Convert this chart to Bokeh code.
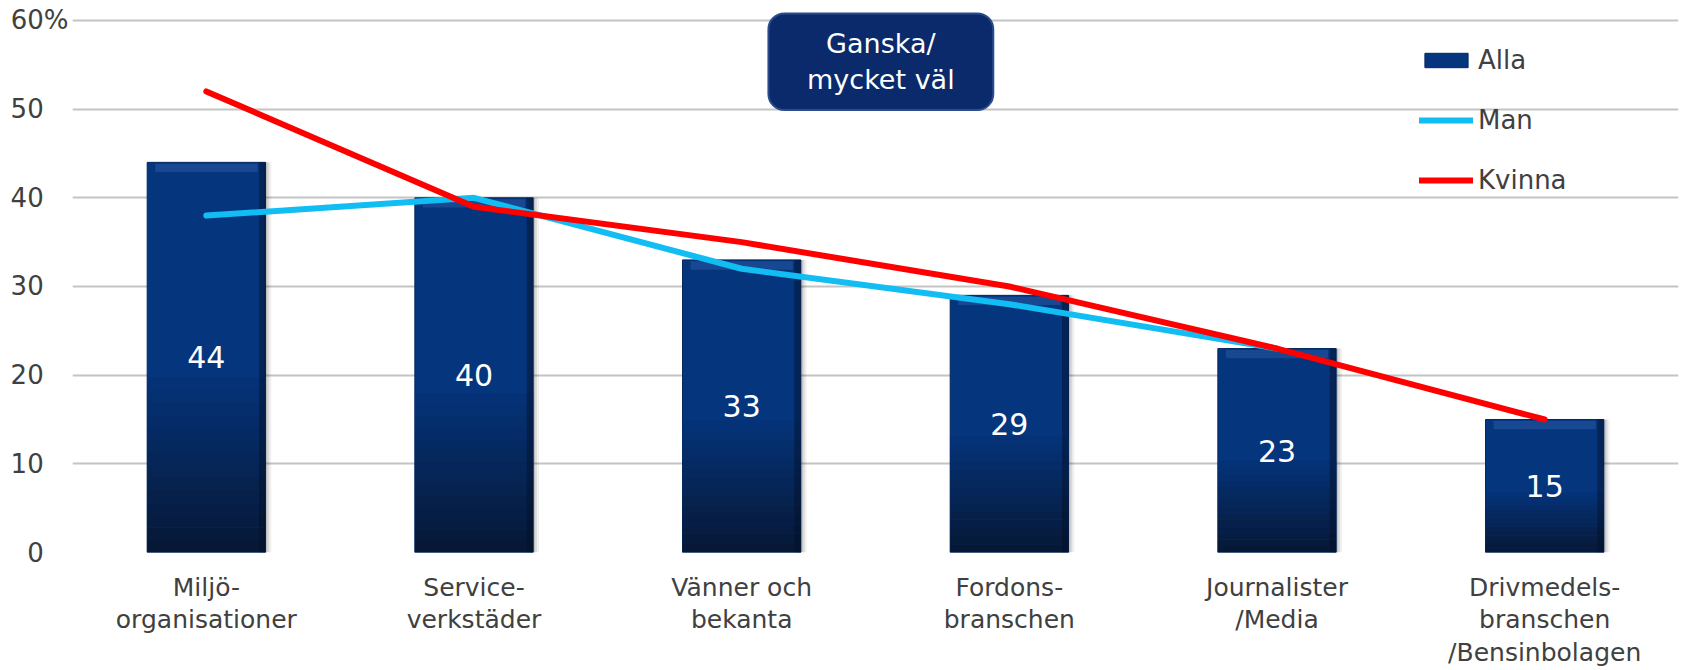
from bokeh.plotting import figure
from bokeh.models import ColumnDataSource, Legend, LegendItem, Label, FactorRange, Range1d
from bokeh.transform import dodge
from bokeh.embed import file_html
from bokeh.resources import INLINE
from bokeh.core.properties import value
import numpy as np

categories = ["Miljö-\norganisationer", "Service-\nverkstäder", "Vänner och\nbekanta",
              "Fordons-\nbranschen", "Journalister\n/Media", "Drivmedels-\nbranschen\n/Bensinbolagen"]
alla = [44, 40, 33, 29, 23, 15]
man = [38, 40, 32, 28, 23, float("nan")]
kvinna = [52, 39, 35, 30, 23, 15]
y_ticks = [0, 10, 20, 30, 40, 50, 60]
y_tick_labels = {0: "0", 10: "10", 20: "20", 30: "30", 40: "40", 50: "50", 60: "60%"}

FONT = "DejaVu Sans"
TXT = "#404040"
NB = "\u00a0\u00a0\u00a0"  # pads the other tick labels to the width of "%"

p = figure(x_range=FactorRange(*categories), y_range=Range1d(0, 61.35),
           width=1681, height=670, output_backend="svg", toolbar_location=None,
           min_border_left=72, min_border_right=3, min_border_top=8, min_border_bottom=116)
p.outline_line_color = None
p.background_fill_color = "white"
p.border_fill_color = "white"

# grid / axes
p.xgrid.grid_line_color = None
p.ygrid.grid_line_color = "#C4C4C4"
p.ygrid.grid_line_width = 2
p.yaxis.ticker = y_ticks
p.yaxis.major_label_overrides = {k: (v if v.endswith("%") else v + NB)
                                 for k, v in y_tick_labels.items()}
p.yaxis.axis_line_color = None
p.yaxis.major_tick_line_color = None
p.yaxis.minor_tick_line_color = None
p.yaxis.major_tick_out = 0
p.yaxis.major_tick_in = 0
p.yaxis.major_label_text_font = FONT
p.yaxis.major_label_text_font_size = "26px"
p.yaxis.major_label_text_color = TXT
p.yaxis.major_label_standoff = 4

p.xaxis.axis_line_color = None
p.xaxis.major_tick_line_color = None
p.xaxis.major_tick_out = 0
p.xaxis.major_tick_in = 0
p.xaxis.major_label_text_font = FONT
p.xaxis.major_label_text_font_size = "25px"
p.xaxis.major_label_text_color = TXT
p.xaxis.major_label_standoff = 20
p.xaxis.major_label_text_line_height = 1.13

BW = 0.442
src = ColumnDataSource(dict(x=categories, alla=alla, man=man, kvinna=kvinna,
                            half=[v / 2 for v in alla], lbl=[str(v) for v in alla]))

# soft shadow to the right of bars
for off, a in [(0.022, 0.06), (0.014, 0.09), (0.007, 0.12)]:
    p.vbar(x=dodge("x", off, range=p.x_range), top="alla", bottom=0, width=BW,
           source=src, fill_color="black", fill_alpha=a, line_color=None)

main = p.vbar(x="x", top="alla", bottom=0, width=BW, source=src,
              fill_color="#05357C", line_color="#03295F", line_width=1)

# vertical gradient toward the bottom of the bars
c0 = np.array([0x05, 0x35, 0x7C])
c1 = np.array([0x07, 0x18, 0x36])
n = 14
arr = np.array(alla, dtype=float)
for k in range(n):
    f_top = 0.45 * (1 - k / n)
    f_bot = 0.45 * (1 - (k + 1) / n)
    t = (k + 1) / n
    c = (c0 * (1 - t) + c1 * t).astype(int)
    p.vbar(x=categories, top=list(arr * f_top), bottom=list(arr * f_bot), width=BW,
           fill_color="#%02x%02x%02x" % tuple(c), line_color=None)
# darker right edge and lighter top bevel
p.vbar(x=dodge("x", BW / 2 - 0.012, range=p.x_range), top="alla", bottom=0, width=0.024,
       source=src, fill_color="#020F26", fill_alpha=0.45, line_color=None)
p.vbar(x=categories, top=list(arr - 0.15), bottom=list(arr - 1.1), width=BW - 0.06,
       fill_color="#2A5CA6", fill_alpha=0.5, line_color=None)

# data labels
p.text(x="x", y="half", text="lbl", source=src, text_color="white",
       text_font=value(FONT), text_font_size="30px", text_align="center",
       text_baseline="middle")

# lines
l_man = p.line(x=categories, y=man, line_color="#12BDF4", line_width=6,
               line_cap="round", line_join="round")
l_kv = p.line(x=categories, y=kvinna, line_color="#FF0000", line_width=6,
              line_cap="round", line_join="round")

# rounded text box
p.rect(x=[3.02], y=[55.35], width=0.84, height=10.9, fill_color="#0A2A6C",
       line_color="#2B4C8C", line_width=2, border_radius=16)
p.add_layout(Label(x=3.02, y=55.35, text="Ganska/\nmycket väl", text_font=FONT,
                   text_font_size="27px", text_color="white", text_align="center",
                   text_baseline="middle", text_line_height=1.15))

legend = Legend(items=[LegendItem(label="Alla", renderers=[main]),
                       LegendItem(label="Man", renderers=[l_man]),
                       LegendItem(label="Kvinna", renderers=[l_kv])],
                location=(1347, 357), orientation="vertical",
                label_text_font=FONT, label_text_font_size="26px",
                label_text_color=TXT, glyph_width=54, glyph_height=18,
                label_height=30, spacing=30, padding=0, margin=0,
                label_standoff=5, background_fill_alpha=0, border_line_color=None)
p.add_layout(legend)

open("out.html", "w").write(file_html(p, INLINE))
